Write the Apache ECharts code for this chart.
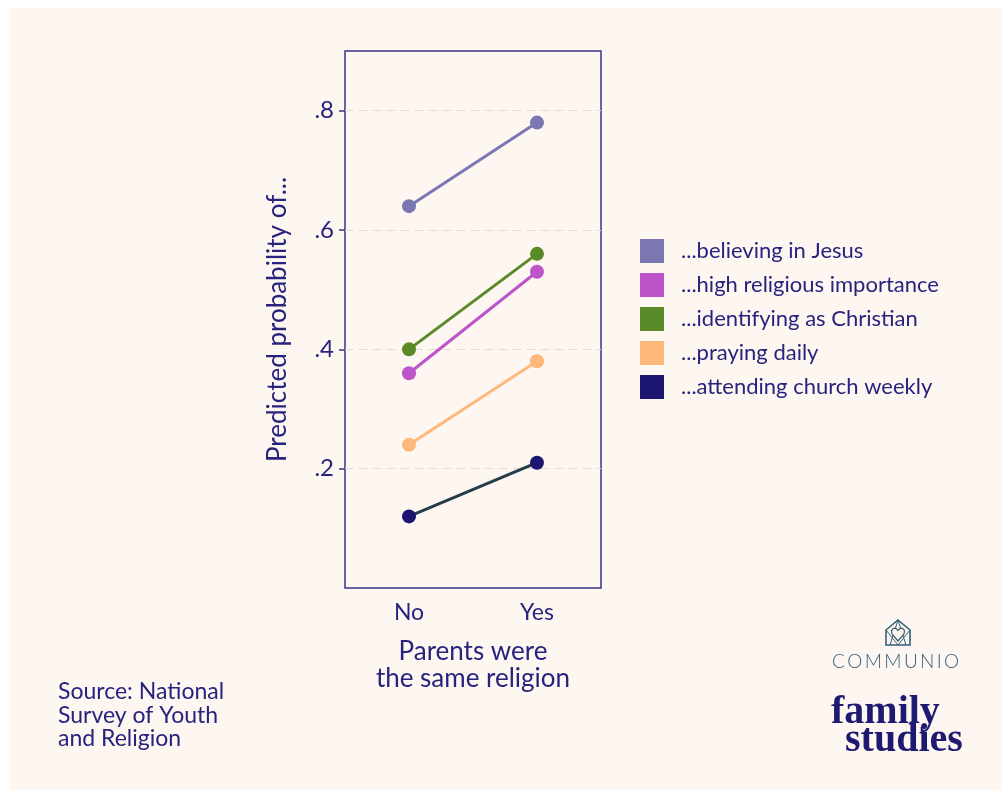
<!DOCTYPE html>
<html>
<head>
<meta charset="utf-8">
<title>Parents were the same religion</title>
<script src="https://cdn.jsdelivr.net/npm/echarts@6/dist/echarts.min.js"></script>
<style>
  html, body { margin: 0; padding: 0; background: #ffffff; }
  #box { position: absolute; left: 9px; top: 8px; width: 993px; height: 782px; background: #fef7f1; }
</style>
</head>
<body>
<div id="box"></div>
<script>
// 数据
var categories = ['No', 'Yes'];
var names = ['...believing in Jesus', '...high religious importance', '...identifying as Christian', '...praying daily', '...attending church weekly'];
var believing = [0.64, 0.78];
var importance = [0.36, 0.53];
var christian = [0.40, 0.56];
var praying = [0.24, 0.38];
var attending = [0.12, 0.21];
var yTicks = [0.2, 0.4, 0.6, 0.8];

var dotColors = ['#7b77b3', '#bb55c9', '#5a8a28', '#ffb87c', '#1c1670'];
var lineColors = ['#7b77b3', '#bb55c9', '#5a8a28', '#ffb87c', '#253d4a'];
var navy = '#28237e';

var myChart = echarts.init(document.getElementById('box'));
var values = [believing, importance, christian, praying, attending];

var series = [];
for (var i = 0; i < values.length; i++) {
    series.push({
        name: names[i],
        type: 'line',
        data: values[i],
        symbol: 'circle',
        symbolSize: 14,
        itemStyle: { color: dotColors[i] },
        lineStyle: { color: lineColors[i], width: 3 }
    });
}

var option = {
    backgroundColor: '#fef7f1',
    textStyle: { fontFamily: 'Lato' },
    grid: {
        left: 336, top: 43, width: 256, height: 537,
        show: true, borderColor: '#37338a', borderWidth: 1.5,
        backgroundColor: 'transparent'
    },
    legend: {
        orient: 'vertical',
        left: 626, top: 226,
        icon: 'rect',
        itemWidth: 24, itemHeight: 24, itemGap: 10,
        textStyle: { fontSize: 22, color: navy, fontFamily: 'Lato', padding: [0, 0, 0, 12] },
        data: names.map(function (n, i) {
            return { name: n, itemStyle: { color: dotColors[i] } };
        })
    },
    xAxis: {
        type: 'category',
        data: categories,
        boundaryGap: true,
        axisLine: { show: false },
        axisTick: { show: false },
        axisLabel: { fontSize: 23, color: navy, margin: 13 },
        name: 'Parents were\nthe same religion',
        nameLocation: 'middle',
        nameGap: 50,
        nameTextStyle: { fontSize: 26, color: navy, lineHeight: 27, fontFamily: 'Lato' }
    },
    yAxis: {
        type: 'value',
        min: 0, max: 0.9, interval: 0.2,
        axisLine: { show: false },
        axisTick: { show: true, length: 6, customValues: yTicks, lineStyle: { color: '#37338a', width: 1.5 } },
        axisLabel: {
            fontSize: 24, color: navy, margin: 11,
            customValues: yTicks,
            formatter: function (v) { return v.toFixed(1).replace(/^0/, ''); }
        },
        splitLine: { lineStyle: { color: '#dddcda', type: [8, 6], width: 1.2 } },
        name: 'Predicted probability of...',
        nameLocation: 'middle',
        nameGap: 54,
        nameTextStyle: { fontSize: 26, color: navy, fontFamily: 'Lato' }
    },
    graphic: [
        {
            type: 'text', left: 49, top: 672,
            style: { text: 'Source: National\nSurvey of Youth\nand Religion', fontSize: 23, lineHeight: 23.5, fill: navy, fontFamily: 'Lato' }
        },
        // 小房子图标
        {
            type: 'polygon', shape: { points: [[877, 637], [877, 622], [889, 612], [901, 622], [901, 637]] },
            style: { fill: 'none', stroke: '#35607a', lineWidth: 1.6 }
        },
        {
            type: 'polyline', shape: { points: [[877, 622], [889, 637], [901, 622]] },
            style: { fill: 'none', stroke: '#35607a', lineWidth: 1 }
        },
        {
            type: 'polyline', shape: { points: [[881, 637], [889, 612], [897, 637]] },
            style: { fill: 'none', stroke: '#35607a', lineWidth: 1 }
        },
        {
            type: 'polygon',
            shape: { points: [[889, 633], [883, 626], [882.5, 622.5], [884.5, 620.3], [887, 620.3], [889, 622.3], [891, 620.3], [893.5, 620.3], [895.5, 622.5], [895, 626]] },
            style: { fill: '#fef7f1', stroke: '#35607a', lineWidth: 1.2 }
        },
        {
            type: 'text', left: 823, top: 644,
            style: { text: 'C\u2009O\u2009M\u2009M\u2009U\u2009N\u2009I\u2009O', fontSize: 19, fill: '#35607a', fontFamily: 'Lato', fontWeight: 300 }
        },
        {
            type: 'text', left: 822, top: 685,
            style: { text: 'family', fontSize: 40, fill: '#1e1a72', fontFamily: 'Liberation Serif', fontWeight: 'bold' }
        },
        {
            type: 'text', left: 836, top: 713,
            style: { text: 'studies', fontSize: 40, fill: '#1e1a72', fontFamily: 'Liberation Serif', fontWeight: 'bold' }
        }
    ],
    series: series
};
myChart.setOption(option);
</script>
</body>
</html>
